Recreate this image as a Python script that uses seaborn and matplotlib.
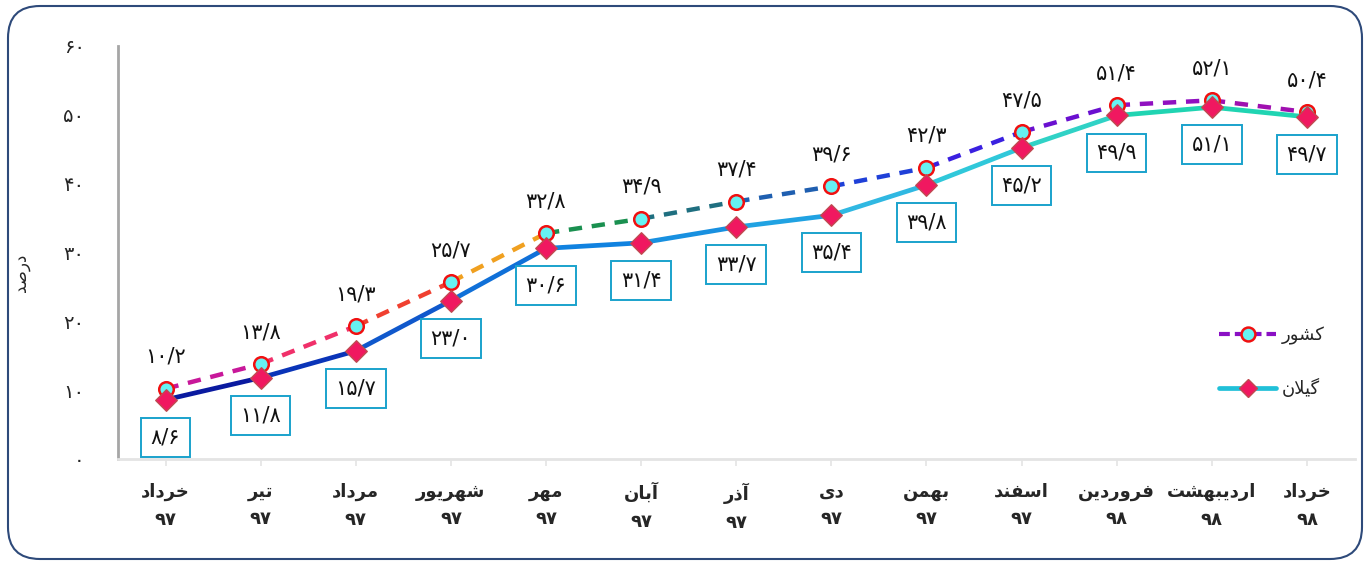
import pandas as pd
import matplotlib
matplotlib.use("Agg")
import matplotlib.pyplot as plt
import seaborn as sns
from matplotlib.lines import Line2D
from matplotlib.patches import FancyBboxPatch

# Data
months = ['خرداد', 'تیر', 'مرداد', 'شهریور', 'مهر', 'آبان', 'آذر', 'دی',
          'بهمن', 'اسفند', 'فروردین', 'اردیبهشت', 'خرداد']
years = ['97', '97', '97', '97', '97', '97', '97', '97', '97', '97', '98', '98', '98']
country = [10.2, 13.8, 19.3, 25.7, 32.8, 34.9, 37.4, 39.6, 42.3, 47.5, 51.4, 52.1, 50.4]
gilan = [8.6, 11.8, 15.7, 23.0, 30.6, 31.4, 33.7, 35.4, 39.8, 45.2, 49.9, 51.1, 49.7]
y_ticks = [0, 10, 20, 30, 40, 50, 60]

country_colors = ['#c8189a', '#f0306a', '#f04030', '#f0a020', '#1a9050', '#1f6f80',
                  '#1f5fb0', '#1f40d8', '#3a20e0', '#6a10d0', '#9010c0', '#a010b0']
gilan_colors = ['#0a1aa0', '#0a34b8', '#1058cc', '#1070d8', '#1082e0', '#1890e0',
                '#20a2e2', '#30b8e2', '#30c8da', '#30d2c6', '#20d4b2', '#20d4b2']

# --- minimal Persian shaping (matplotlib has no complex text layout) ---
FORMS = {
    'ا': ('\uFE8D', '\uFE8E', None, None), 'آ': ('\uFE81', '\uFE82', None, None),
    'ب': ('\uFE8F', '\uFE90', '\uFE91', '\uFE92'), 'ت': ('\uFE95', '\uFE96', '\uFE97', '\uFE98'),
    'خ': ('\uFEA5', '\uFEA6', '\uFEA7', '\uFEA8'), 'د': ('\uFEA9', '\uFEAA', None, None),
    'ذ': ('\uFEAB', '\uFEAC', None, None), 'ر': ('\uFEAD', '\uFEAE', None, None),
    'س': ('\uFEB1', '\uFEB2', '\uFEB3', '\uFEB4'), 'ش': ('\uFEB5', '\uFEB6', '\uFEB7', '\uFEB8'),
    'ص': ('\uFEB9', '\uFEBA', '\uFEBB', '\uFEBC'), 'ف': ('\uFED1', '\uFED2', '\uFED3', '\uFED4'),
    'ل': ('\uFEDD', '\uFEDE', '\uFEDF', '\uFEE0'), 'م': ('\uFEE1', '\uFEE2', '\uFEE3', '\uFEE4'),
    'ن': ('\uFEE5', '\uFEE6', '\uFEE7', '\uFEE8'), 'ه': ('\uFEE9', '\uFEEA', '\uFEEB', '\uFEEC'),
    'و': ('\uFEED', '\uFEEE', None, None), 'ی': ('\uFBFC', '\uFBFD', '\uFBFE', '\uFBFF'),
    'ک': ('\uFB8E', '\uFB8F', '\uFB90', '\uFB91'), 'گ': ('\uFB92', '\uFB93', '\uFB94', '\uFB95'),
}
LAM_ALEF = {'ا': ('\uFEFB', '\uFEFC'), 'آ': ('\uFEF5', '\uFEF6')}


def joins_left(ch):
    return ch in FORMS and FORMS[ch][2] is not None


def shape(word):
    out = []
    i = 0
    while i < len(word):
        ch = word[i]
        prev_joins = i > 0 and joins_left(word[i - 1]) and out and out[-1] != ' '
        if ch == 'ل' and i + 1 < len(word) and word[i + 1] in LAM_ALEF:
            out.append(LAM_ALEF[word[i + 1]][1 if prev_joins else 0])
            i += 2
            continue
        if ch not in FORMS:
            out.append(ch)
            i += 1
            continue
        nxt = word[i + 1] if i + 1 < len(word) else None
        next_joins = joins_left(ch) and nxt in FORMS
        iso, fin, ini, med = FORMS[ch]
        if prev_joins and next_joins:
            out.append(med)
        elif prev_joins:
            out.append(fin)
        elif next_joins:
            out.append(ini)
        else:
            out.append(iso)
        i += 1
    return ''.join(reversed(out))


def fa_num(s):
    return str(s).translate(str.maketrans('0123456789.', '۰۱۲۳۴۵۶۷۸۹/'))


def seg_frame(values):
    rows = []
    for i in range(len(values) - 1):
        rows.append({'x': i, 'y': values[i], 'seg': f's{i}'})
        rows.append({'x': i + 1, 'y': values[i + 1], 'seg': f's{i}'})
    return pd.DataFrame(rows)


sns.set_theme(style='white')
plt.rcParams['font.family'] = ['DejaVu Sans']

fig = plt.figure(figsize=(13.7, 5.64), dpi=100)
ax = fig.add_axes([0.0861, 0.1862, 0.9026, 0.7323])

x = list(range(len(months)))

# country: dashed gradient line + circles
cdf = seg_frame(country)
sns.lineplot(data=cdf, x='x', y='y', hue='seg', sort=False, ax=ax, legend=False,
             palette=dict(zip([f's{i}' for i in range(12)], country_colors)),
             linewidth=3.2, linestyle=(0, (3, 2.2)), zorder=2)
sns.scatterplot(x=x, y=country, ax=ax, marker='o', s=110, color='#66f2f2',
                edgecolor='#f01010', linewidth=1.8, zorder=3)

# gilan: solid gradient line + diamonds
gdf = seg_frame(gilan)
sns.lineplot(data=gdf, x='x', y='y', hue='seg', sort=False, ax=ax, legend=False,
             palette=dict(zip([f's{i}' for i in range(12)], gilan_colors)),
             linewidth=3.4, zorder=4)
sns.scatterplot(x=x, y=gilan, ax=ax, marker='D', s=120, color='#f01860',
                edgecolor='#c04a50', linewidth=1.0, zorder=5)

for i in x:
    ax.annotate(fa_num(country[i]), (i, country[i]), xytext=(0, 23), textcoords='offset points',
                ha='center', va='center', fontsize=15, color='#111111')
    ax.annotate(fa_num(gilan[i]), (i, gilan[i]), xytext=(0, -27), textcoords='offset points',
                ha='center', va='center', fontsize=15, color='#111111', zorder=6,
                bbox=dict(boxstyle='square,pad=0.45', fc='white', ec='#1aa2cc', lw=1.4))

ax.set_xlim(-0.5, 12.5)
ax.set_ylim(0, 60)
ax.set_yticks(y_ticks)
ax.set_yticklabels([fa_num(v) for v in y_ticks], fontsize=14)
ax.set_xticks(x)
ax.set_xticklabels([shape(m) + '\n' + fa_num(y) for m, y in zip(months, years)],
                   fontsize=13, fontweight='bold', linespacing=1.7)
ax.tick_params(axis='y', length=0, pad=24)
ax.tick_params(axis='x', length=5, width=1.2, color='#e4e4e4', pad=12, direction='out',
               bottom=True)
ax.set_ylabel(shape('درصد'), fontsize=12)
ax.yaxis.set_label_coords(-0.071, 0.45)
ax.set_xlabel('')

for s in ['top', 'right']:
    ax.spines[s].set_visible(False)
ax.spines['left'].set_color('#a6a6a6')
ax.spines['left'].set_linewidth(2)
ax.spines['bottom'].set_color('#e4e4e4')
ax.spines['bottom'].set_linewidth(2)

handles = [
    Line2D([], [], color='#8a10c4', linestyle=(0, (2.6, 1.2)), linewidth=3, marker='o',
           markersize=10, markerfacecolor='#66f2f2', markeredgecolor='#f01010',
           markeredgewidth=1.8),
    Line2D([], [], color='#20c0d8', linewidth=3.4, marker='D', markersize=9,
           markerfacecolor='#f01860', markeredgecolor='#c04a50'),
]
ax.legend(handles, [shape('کشور'), shape('گیلان')], loc='center left',
          bbox_to_anchor=(0.877, 0.235), frameon=False, fontsize=13,
          labelspacing=1.9, handlelength=3.2, handletextpad=0.3)

border = FancyBboxPatch((0.08, 0.05), 13.54, 5.53,
                        boxstyle='round,pad=0,rounding_size=0.32',
                        transform=fig.dpi_scale_trans, fill=False,
                        ec='#2e4a7a', lw=1.5)
fig.patches.append(border)

fig.savefig('out.png', dpi=100)
